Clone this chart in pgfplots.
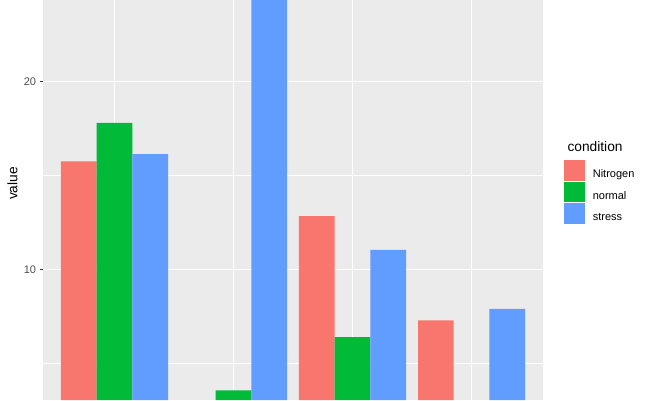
\documentclass[border=0pt]{standalone}
\usepackage{fontspec}
\setmainfont{Liberation Sans}
\usepackage{pgfplots}
\pgfplotsset{compat=1.18}
\definecolor{nitro}{HTML}{F8766D}
\definecolor{norm}{HTML}{00BA38}
\definecolor{stress}{HTML}{619CFF}
\definecolor{panel}{HTML}{EBEBEB}
\definecolor{ticktext}{HTML}{4D4D4D}
\definecolor{tickmark}{HTML}{333333}

\begin{document}
\begin{tikzpicture}
\useasboundingbox (0,0) rectangle (650pt,400pt);
\begin{axis}[
    at={(43pt,0pt)}, anchor=south west,
    scale only axis, width=500pt, height=400pt,
    xmin=0.4, xmax=4.6, ymin=3.05, ymax=24.32,
    axis background/.style={fill=panel},
    axis line style={draw=none},
    xtick={1,2,3,4}, xticklabels={}, xtick style={draw=none},
    ytick={10,20}, minor ytick={5,15}, ytick pos=left,
    xmajorgrids, ymajorgrids, yminorgrids,
    major grid style={white, line width=1.3pt},
    minor grid style={white, line width=0.65pt},
    tick align=outside, major tick length=3.4pt,
    ytick style={tickmark, line width=1.1pt},
    minor tick style={draw=none},
    yticklabel style={font=\fontsize{11pt}{13pt}\selectfont, text=ticktext},
    /pgf/number format/assume math mode=true,
    legend cell align=left,
    legend image code/.code={\fill[#1] (0pt,-6.3pt) rectangle (20.6pt,14.3pt);
        \path (28.6pt,0pt);},
    legend style={at={(axis description cs:1.042,0.6)}, anchor=north west,
        draw=none, fill=none, inner sep=0pt, row sep=1pt,
        font=\fontsize{11pt}{13pt}\selectfont, nodes={inner sep=0pt}},
]
% values below the visible range (group 2 Nitrogen, group 4 normal) are left out
\addplot[ybar, bar width=0.3, bar shift=-0.3, fill=nitro, draw=none]
    coordinates {(1,15.74) (3,12.83) (4,7.29)};
\addlegendentry{Nitrogen}
\addplot[ybar, bar width=0.3, bar shift=0, fill=norm, draw=none]
    coordinates {(1,17.78) (2,3.56) (3,6.40)};
\addlegendentry{normal}
\addplot[ybar, bar width=0.3, bar shift=0.3, fill=stress, draw=none]
    coordinates {(1,16.12) (2,30) (3,11.03) (4,7.90)};
\addlegendentry{stress}
\end{axis}
\node[rotate=90, anchor=base, font=\fontsize{13.75pt}{16pt}\selectfont] at (17.3pt,216.5pt) {value};
\node[anchor=base west, font=\fontsize{13.75pt}{16pt}\selectfont] at (564pt,248.3pt) {condition};
\end{tikzpicture}
\end{document}
